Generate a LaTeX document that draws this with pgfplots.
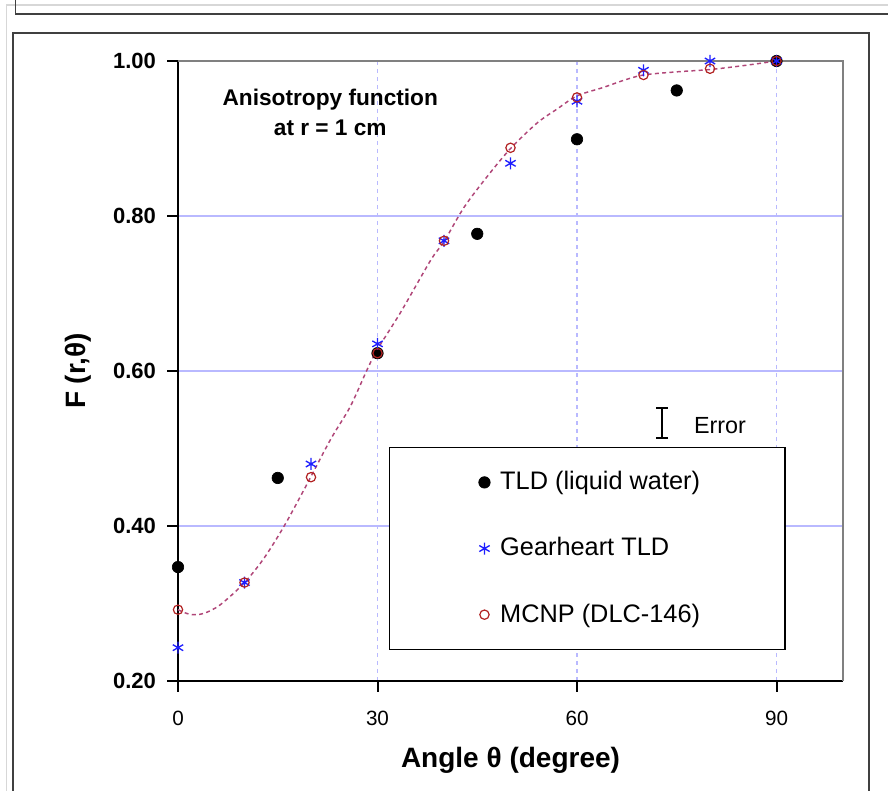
\documentclass[border=0pt]{standalone}
\usepackage{fontspec}
\setmainfont{Liberation Sans}
\usepackage{pgfplots}
\pgfplotsset{compat=1.18}
\definecolor{gridblue}{RGB}{185,185,255}
\definecolor{mcnpred}{RGB}{178,34,34}
\definecolor{fitpink}{RGB}{176,70,120}
\definecolor{gearblue}{RGB}{30,30,255}
\definecolor{framegray}{RGB}{64,64,64}
\definecolor{lightframe}{RGB}{215,215,215}

\begin{document}
\begin{tikzpicture}
% page = 888 x 791 px at 0.75pt/px, origin at the lower left corner of the plot area
\path[use as bounding box] (-133.5pt,-82.5pt) rectangle (532.5pt,510.75pt);
\begin{axis}[
    scale only axis,
    width=498.75pt, height=465pt,
    xmin=0, xmax=100, ymin=0.2, ymax=1.0,
    axis x line*=bottom,
    axis y line*=left,
    axis line style={-, black, line width=1pt},
    xtick align=outside, ytick align=outside,
    major tick length=7pt,
    xtick style={draw=black, line width=0.8pt},
    ytick style={draw=black, line width=0.8pt},
    xtick={0,30,60,90},
    ytick={0.2,0.4,0.6,0.8,1.0},
    xmajorgrids, ymajorgrids,
    x grid style={gridblue, line width=0.8pt, dash pattern=on 3pt off 3pt},
    y grid style={gridblue, line width=0.8pt},
    /pgf/number format/assume math mode=true,
    yticklabel style={font=\bfseries\fontsize{16.5}{18}\selectfont, xshift=-6pt,
        /pgf/number format/.cd, fixed, fixed zerofill, precision=2},
    xticklabel style={font=\fontsize{15.5}{18}\selectfont, yshift=-12pt},
    xlabel={Angle θ (degree)},
    ylabel={F (r,θ)},
    xlabel style={font=\bfseries\fontsize{21}{24}\selectfont,
        at={(axis description cs:0.5,-0.128)}, anchor=center},
    ylabel style={font=\bfseries\fontsize{21}{24}\selectfont,
        at={(axis description cs:-0.150,0.5)}, anchor=center},
    clip=false,
    legend cell align=left,
    legend image code/.code={\path (-6pt,0pt) (6pt,0pt); \draw[#1] plot coordinates {(0pt,0pt)};},
    legend style={at={(rel axis cs:0.3173,0.3774)}, anchor=north west,
        draw=black, line width=1.1pt, fill=white,
        inner xsep=64.5pt, inner ysep=19.5pt,
        row sep=36.6pt, column sep=5.25pt,
        font=\fontsize{19}{22}\selectfont,
        nodes={inner sep=0pt, text height=1.2em, text depth=0.1em}},
]
% gray top and right border of the plot area
\draw[gray, line width=1pt] (rel axis cs:0,1) -- (rel axis cs:1,1) -- (rel axis cs:1,0);

\addplot[only marks, mark=*, mark size=4.3pt, black, mark options={line width=0.5pt}]
  coordinates {(0,0.347) (15,0.462) (30,0.623) (45,0.777) (60,0.899) (75,0.962) (90,1.000)};
\addlegendentry{\makebox[149pt][l]{TLD (liquid water)}}

\addplot[only marks, mark=asterisk, mark size=4.5pt, gearblue, mark options={line width=1pt}]
  coordinates {(0,0.243) (10,0.327) (20,0.480) (30,0.635) (40,0.768) (50,0.868) (60,0.948) (70,0.988) (80,1.000) (90,1.000)};
\addlegendentry{\makebox[149pt][l]{Gearheart TLD}}

\addplot[only marks, mark=o, mark size=3.5pt, mcnpred, mark options={line width=0.9pt}]
  coordinates {(0,0.292) (10,0.327) (20,0.463) (30,0.623) (40,0.768) (50,0.888) (60,0.953) (70,0.982) (80,0.990) (90,1.000)};
\addlegendentry{\makebox[149pt][l]{MCNP (DLC-146)}}

% dashed fit through the MCNP values
\addplot[forget plot, smooth, fitpink, line width=1.1pt, dash pattern=on 3pt off 2.5pt]
  coordinates {(0,0.292) (1.8,0.286) (3.8,0.287) (6.3,0.298) (9.9,0.326) (12.9,0.358)
  (15.9,0.399) (18.9,0.446) (22.9,0.511) (25.9,0.554) (28.4,0.601) (30,0.628)
  (33.5,0.676) (38,0.743) (40,0.767) (43,0.811) (46.5,0.851) (50,0.887) (54,0.920)
  (57,0.938) (60,0.955) (64,0.966) (67,0.975) (70,0.982) (75,0.986) (80,0.989)
  (85,0.994) (90,1.000)};

% error symbol
\addplot[forget plot, black, mark=none, line width=1.3pt,
  error bars/.cd, y dir=both, y explicit,
  error bar style={line width=1.3pt},
  error mark options={rotate=90, mark size=4.5pt, line width=1.3pt}]
  coordinates {(72.8,0.533) +- (0,0.0194)};
\node[anchor=west, font=\fontsize{17.5}{20}\selectfont] at (axis cs:76.9,0.530) {Error};

\node[align=center, font=\bfseries\fontsize{17}{23}\selectfont] at (axis cs:22.9,0.9335)
  {Anisotropy function\\at r = 1 cm};
\end{axis}
% outward tick marks (axis box is 498.75pt x 465pt with its corner at the origin)
\foreach \xx in {0,149.625,299.25,448.875}
  \draw[black, line width=1.5pt] (\xx pt,0pt) -- (\xx pt,-8pt);
\foreach \yy in {0,116.25,232.5,348.75,465}
  \draw[black, line width=1.5pt] (0pt,\yy pt) -- (-8pt,\yy pt);
% window frame around the chart
\draw[lightframe, line width=1pt] (-128.6pt,-82.5pt) -- (-128.6pt,507pt) -- (532.5pt,507pt);
\draw[framegray, line width=1.3pt] (-121.9pt,510.75pt) -- (-121.9pt,500.25pt) -- (532.5pt,500.25pt);
\draw[framegray, line width=1.3pt] (-123.75pt,-82.5pt) -- (-123.75pt,486pt) -- (518.25pt,486pt) -- (518.25pt,-82.5pt);
\end{tikzpicture}
\end{document}
